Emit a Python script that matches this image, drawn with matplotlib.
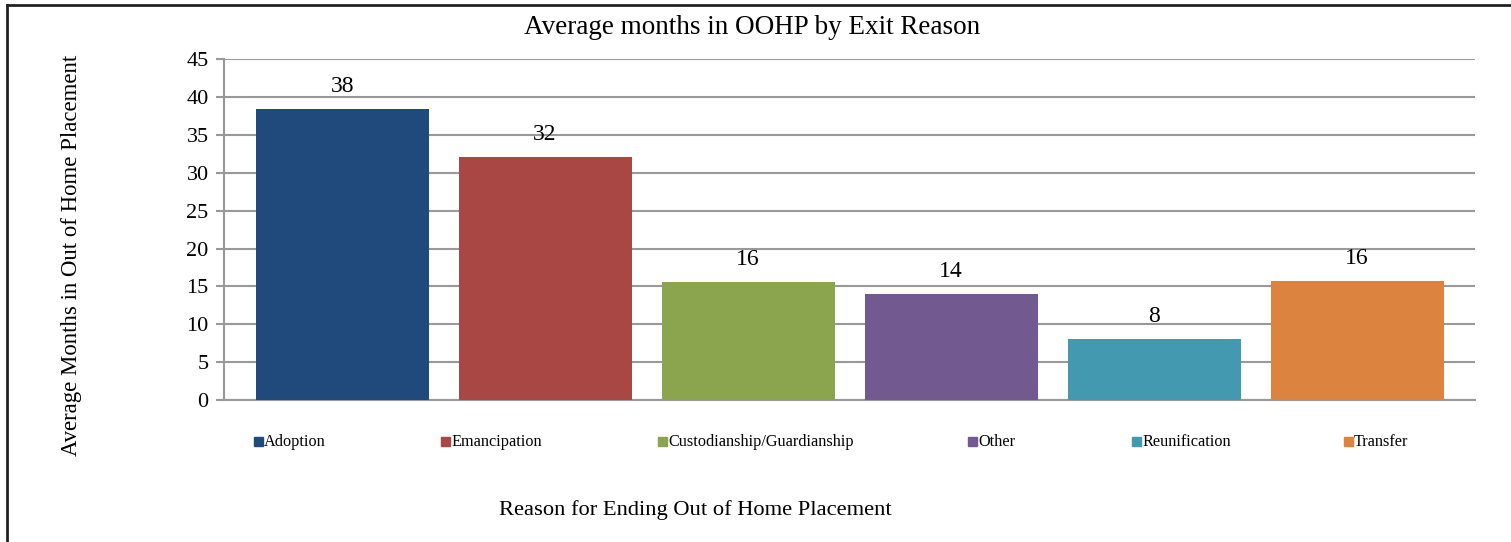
import matplotlib
matplotlib.use('Agg')
import matplotlib.pyplot as plt
from matplotlib.patches import Rectangle
from matplotlib.lines import Line2D

reasons = ['Adoption', 'Emancipation', 'Custodianship/Guardianship', 'Other',
           'Reunification', 'Transfer']
months = [38.45, 32.1, 15.6, 14.0, 8.1, 15.7]
colors = ['#204A7B', '#A94744', '#8AA54E', '#72598F', '#4399B0', '#DB833F']
yticks = [0, 5, 10, 15, 20, 25, 30, 35, 40, 45]

# legend entry positions (figure pixels, left edge of the square)
legend_x = [254, 441, 658, 968, 1132, 1344]

W, H = 1511, 542
plt.rcParams['font.family'] = ['Liberation Serif', 'DejaVu Serif']

fig = plt.figure(figsize=(W / 100, H / 100), dpi=100)
ax = fig.add_axes([224 / W, 1 - 400 / H, (1475 - 224) / W, (400 - 59.3) / H])

x = list(range(len(reasons)))
bars = ax.bar(x, months, width=0.852, color=colors, zorder=3)
for xi, v in zip(x, months):
    ax.text(xi, v + 1.6, '{:.0f}'.format(v), ha='center', va='bottom', fontsize=17)

ax.set_xlim(-0.582, 5.581)
ax.set_ylim(0, 45)
ax.set_yticks(yticks)
ax.tick_params(axis='y', labelsize=16, length=6, color='#999999', width=1.5, pad=5)
ax.set_xticks([])
ax.grid(axis='y', color='#999999', linewidth=1.5, zorder=0)
for s in ['top', 'right']:
    ax.spines[s].set_visible(False)
ax.spines['left'].set_color('#999999')
ax.spines['left'].set_linewidth(1.5)
ax.spines['bottom'].set_color('#999999')
ax.spines['bottom'].set_linewidth(1.5)

fig.text(752 / W, 1 - 27 / H, 'Average months in OOHP by Exit Reason',
         ha='center', va='center', fontsize=19.5)
fig.text(72 / W, 1 - 255 / H, 'Average Months in Out of Home Placement',
         ha='center', va='center', rotation=90, fontsize=16.4)
fig.text(695 / W, 1 - 510 / H, 'Reason for Ending Out of Home Placement',
         ha='center', va='center', fontsize=16.2)

# legend drawn entry by entry
for lx, name, c in zip(legend_x, reasons, colors):
    fig.patches.append(Rectangle((lx / W, 1 - 446 / H), 9 / W, 9 / H,
                                 transform=fig.transFigure, color=c))
    fig.text((lx + 10) / W, 1 - 441.5 / H, name, ha='left', va='center', fontsize=11.7)

# outer frame
fig.lines.append(Line2D([7 / W, 1], [1 - 5 / H, 1 - 5 / H], transform=fig.transFigure,
                        color='#222222', linewidth=2))
fig.lines.append(Line2D([7 / W, 7 / W], [0, 1 - 5 / H], transform=fig.transFigure,
                        color='#222222', linewidth=2))

fig.savefig('out.png', dpi=100)
